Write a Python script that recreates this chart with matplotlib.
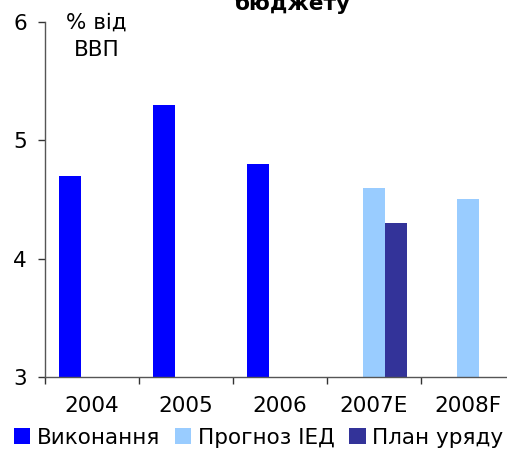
import numpy as np
import matplotlib
matplotlib.use("Agg")
import matplotlib.pyplot as plt

categories = ["2004", "2005", "2006", "2007E", "2008F"]
vykonannia = [4.7, 5.3, 4.8, np.nan, np.nan]
prognoz_ied = [np.nan, np.nan, np.nan, 4.6, 4.5]
plan_uriadu = [np.nan, np.nan, np.nan, 4.3, np.nan]

series = [
    ("Виконання", vykonannia, "#0000FF"),
    ("Прогноз IЕД", prognoz_ied, "#99CCFF"),
    ("План уряду", plan_uriadu, "#333399"),
]

plt.rcParams["font.family"] = "DejaVu Sans"
fig = plt.figure(figsize=(5.07, 4.54), dpi=100)
ax = fig.add_axes([0.0888, 0.1696, 0.927, 0.782])

x = np.arange(len(categories))
w = 0.234
for i, (name, vals, color) in enumerate(series):
    ax.bar(x + (i - 1) * w, np.array(vals) - 3, width=w, bottom=3, color=color, label=name)

ax.set_xlim(-0.5, len(categories) - 0.5)
ax.set_ylim(3, 6)
ax.set_yticks([3, 4, 5, 6])
ax.set_xticks(x)
ax.set_xticklabels(categories)
ax.set_xticks(np.arange(-0.5, len(categories)), minor=True)
ax.tick_params(axis="x", which="major", length=0, pad=14, labelsize=15.5)
ax.tick_params(axis="x", which="minor", length=5, width=1, color="#333333")
ax.tick_params(axis="y", length=5, width=1, color="#333333", pad=8, labelsize=15.5)

for s in ["top", "right"]:
    ax.spines[s].set_visible(False)
for s in ["left", "bottom"]:
    ax.spines[s].set_color("#555555")
    ax.spines[s].set_linewidth(1)

fig.text(0.19, 1 - 13 / 454, "% від\nВВП", ha="center", va="top", fontsize=15.5, linespacing=1.45)

fig.text(0.576, 0.979, "бюджету", ha="center", va="baseline", fontsize=15.5, fontweight="bold")

fig.legend(loc="lower center", bbox_to_anchor=(0.51, -0.005), ncol=3, frameon=False,
           fontsize=15.5, handlelength=0.75, handleheight=0.75, handletextpad=0.3,
           columnspacing=0.7, borderaxespad=0)

fig.savefig("out.png", dpi=100)
